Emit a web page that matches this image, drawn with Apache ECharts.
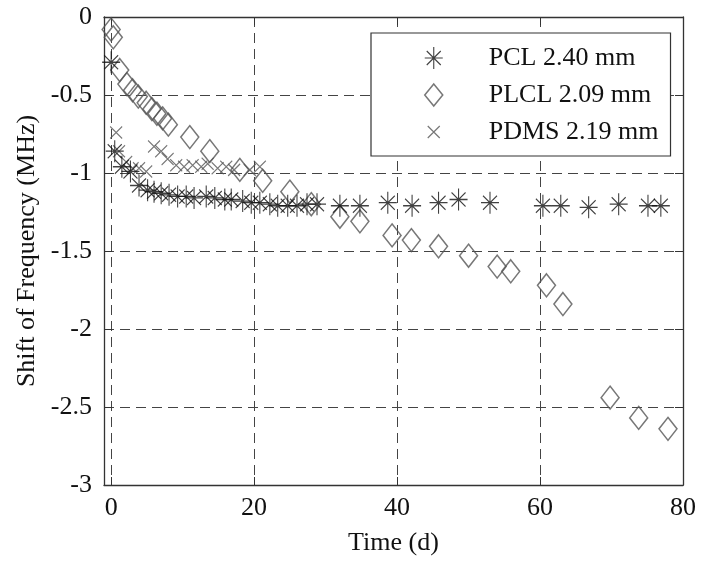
<!DOCTYPE html>
<html>
<head>
<meta charset="utf-8">
<script src="https://cdn.jsdelivr.net/npm/echarts@6/dist/echarts.min.js"></script>
<style>html,body{margin:0;padding:0;background:#fff}#c{width:701px;height:561px}</style>
</head>
<body>
<div id="c"></div>
<script>
// ---- data ----
var xTicks = [0, 20, 40, 60, 80];
var yTicks = [0, -0.5, -1, -1.5, -2, -2.5, -3];
var seriesNames = ['PCL 2.40 mm', 'PLCL 2.09 mm', 'PDMS 2.19 mm'];

var pclX = [0, 0.5, 1.5, 2.7, 3.9, 5.1, 6.0, 7.0, 8.1, 9.3, 10.5, 11.6, 13.3, 14.5, 15.9, 16.8, 18.4, 19.6, 20.8, 22.2, 23.3, 24.7, 26.0, 27.4, 28.8, 32.0, 34.8, 38.7, 42.1, 45.8, 48.6, 53.0, 60.4, 62.9, 66.8, 71.0, 75.1, 76.9];
var pclY = [-0.29, -0.86, -0.96, -0.99, -1.08, -1.11, -1.12, -1.13, -1.14, -1.15, -1.15, -1.16, -1.15, -1.16, -1.17, -1.17, -1.18, -1.19, -1.19, -1.2, -1.21, -1.21, -1.21, -1.2, -1.2, -1.21, -1.21, -1.19, -1.21, -1.19, -1.17, -1.19, -1.21, -1.21, -1.22, -1.2, -1.21, -1.21];

var plclX = [0, 0.3, 1.2, 2.2, 3.0, 3.8, 4.9, 5.7, 6.4, 7.2, 8.0, 11.0, 13.8, 18.0, 21.2, 25.0, 28.0, 32.0, 34.8, 39.3, 42.0, 45.8, 50.0, 54.0, 55.9, 60.9, 63.2, 69.8, 73.8, 77.9];
var plclY = [-0.08, -0.13, -0.34, -0.43, -0.47, -0.51, -0.55, -0.59, -0.62, -0.65, -0.69, -0.77, -0.86, -0.98, -1.05, -1.12, -1.2, -1.28, -1.31, -1.4, -1.43, -1.47, -1.53, -1.6, -1.63, -1.72, -1.84, -2.44, -2.57, -2.64];

var pdmsX = [0.7, 1.1, 2.1, 3.0, 3.9, 4.9, 6.0, 7.0, 7.9, 9.1, 10.2, 11.4, 12.6, 13.5, 14.9, 16.1, 17.2, 19.4, 20.8];
var pdmsY = [-0.74, -0.86, -0.93, -0.97, -0.97, -0.99, -0.83, -0.86, -0.91, -0.95, -0.96, -0.95, -0.96, -0.94, -0.97, -0.96, -0.98, -0.98, -0.96];

function pairs(xs, ys) { return xs.map(function (x, i) { return [x, ys[i]]; }); }

var FONT = 'Liberation Serif';
var STAR = 'path://M0,-11L0,11M-9,0L9,0M-7,-7L7,7M-7,7L7,-7';
var CROSS = 'path://M-6,-6L6,6M-6,6L6,-6M-9,-11M9,11';

var gridLine = { show: true, lineStyle: { color: '#444', type: [10, 6], width: 1 } };

var chart = echarts.init(document.getElementById('c'), null, { renderer: 'canvas' });
chart.setOption({
  animation: false,
  backgroundColor: '#fff',
  textStyle: { fontFamily: FONT },
  grid: { left: 104, right: 18, top: 17, bottom: 70, containLabel: false },
  xAxis: [{
    type: 'value', min: -1, max: 80, splitNumber: 4,
    name: 'Time (d)', nameLocation: 'middle', nameGap: 45,
    nameTextStyle: { fontFamily: FONT, fontSize: 26, color: '#111' },
    axisLine: { show: true, onZero: false, lineStyle: { color: '#333', width: 1.3 } },
    axisTick: { show: true, inside: true, length: 8, lineStyle: { color: '#333' } },
    axisLabel: { fontFamily: FONT, fontSize: 26, color: '#111', margin: 10, showMinLabel: false,
      formatter: function (v) { return xTicks.indexOf(v) >= 0 ? String(v) : ''; } },
    splitLine: gridLine
  }, {
    type: 'value', min: -1, max: 80, splitNumber: 4, position: 'top',
    axisLine: { show: true, onZero: false, lineStyle: { color: '#333', width: 1.3 } },
    axisTick: { show: true, inside: true, length: 8, lineStyle: { color: '#333' } },
    axisLabel: { show: false }, splitLine: { show: false }
  }],
  yAxis: [{
    type: 'value', min: -3, max: 0, interval: 0.5,
    name: 'Shift of Frequency (MHz)', nameLocation: 'middle', nameGap: 60, nameRotate: 90,
    nameTextStyle: { fontFamily: FONT, fontSize: 26, color: '#111' },
    axisLine: { show: true, onZero: false, lineStyle: { color: '#333', width: 1.3 } },
    axisTick: { show: true, inside: true, length: 8, lineStyle: { color: '#333' } },
    axisLabel: { fontFamily: FONT, fontSize: 26, color: '#111', margin: 12,
      formatter: function (v) { return yTicks.indexOf(v) >= 0 ? String(v) : ''; } },
    splitLine: gridLine
  }, {
    type: 'value', min: -3, max: 0, interval: 0.5, position: 'right',
    axisLine: { show: true, onZero: false, lineStyle: { color: '#333', width: 1.3 } },
    axisTick: { show: true, inside: true, length: 8, lineStyle: { color: '#333' } },
    axisLabel: { show: false }, splitLine: { show: false }
  }],
  legend: {
    orient: 'vertical', left: 371, top: 33,
    padding: [12, 12, 11, 53],
    itemWidth: 18, itemHeight: 22, itemGap: 11,
    borderColor: '#333', borderWidth: 1.2, backgroundColor: '#fff',
    textStyle: { fontFamily: FONT, fontSize: 26, color: '#111', padding: [0, 0, 0, 41] },
    data: [
      { name: seriesNames[0], icon: STAR, itemStyle: { color: 'transparent', borderColor: '#111', borderWidth: 1.1 } },
      { name: seriesNames[1], icon: 'diamond', itemStyle: { color: 'transparent', borderColor: '#555', borderWidth: 1.5 } },
      { name: seriesNames[2], icon: CROSS, itemStyle: { color: 'transparent', borderColor: '#555', borderWidth: 1.2 } }
    ]
  },
  series: [{
    name: seriesNames[1], type: 'scatter', data: pairs(plclX, plclY),
    symbol: 'diamond', symbolSize: [18, 23],
    itemStyle: { color: 'transparent', borderColor: '#555', borderWidth: 1.5 }, z: 2
  }, {
    name: seriesNames[2], type: 'scatter', data: pairs(pdmsX, pdmsY),
    symbol: CROSS, symbolSize: [18, 22],
    itemStyle: { color: 'transparent', borderColor: '#555', borderWidth: 1.2 }, z: 3
  }, {
    name: seriesNames[0], type: 'scatter', data: pairs(pclX, pclY),
    symbol: STAR, symbolSize: [18, 22],
    itemStyle: { color: 'transparent', borderColor: '#111', borderWidth: 1.2 }, z: 4
  }]
});
</script>
</body>
</html>
